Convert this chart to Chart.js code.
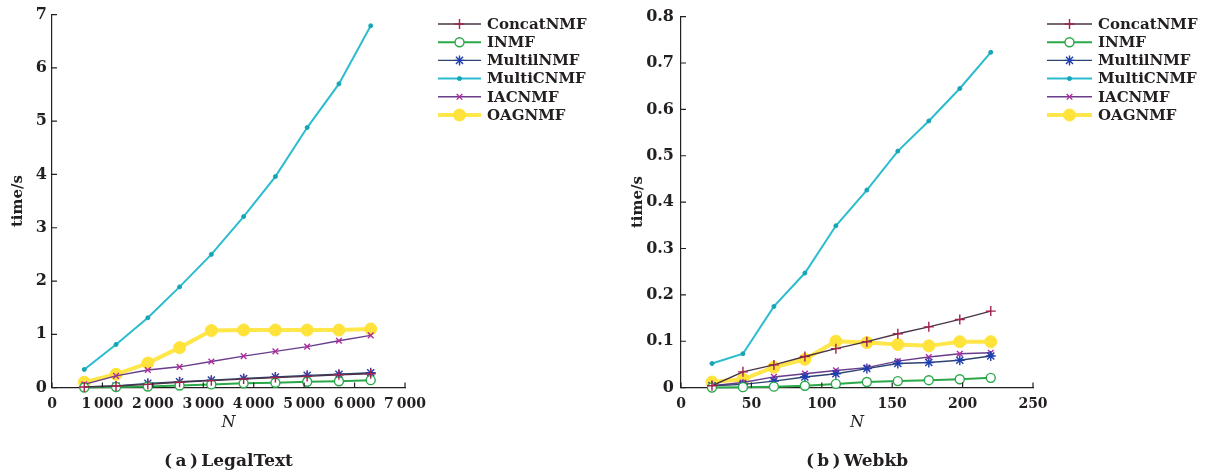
<!DOCTYPE html>
<html>
<head>
<meta charset="utf-8">
<script src="https://cdn.jsdelivr.net/npm/chart.js@4.4.1/dist/chart.umd.min.js"></script>
<style>
  html, body { margin: 0; padding: 0; background: #fff; }
  body { width: 1206px; height: 476px; position: relative; overflow: hidden; }
  .box { position: absolute; top: 0; height: 476px; }
  #boxA { left: 0; width: 620px; }
  #boxB { left: 620px; width: 586px; }
</style>
</head>
<body>
<div class="box" id="boxA"><canvas id="chartA"></canvas></div>
<div class="box" id="boxB"><canvas id="chartB"></canvas></div>
<script>
const seriesNames = ["ConcatNMF", "INMF", "MultilNMF", "MultiCNMF", "IACNMF", "OAGNMF"];

// (a) LegalText
const legalN = [640, 1270, 1900, 2530, 3160, 3800, 4430, 5060, 5690, 6320];
const legalConcat = [0.01, 0.03, 0.06, 0.10, 0.13, 0.16, 0.19, 0.21, 0.24, 0.26];
const legalINMF = [0.00, 0.01, 0.02, 0.04, 0.06, 0.08, 0.09, 0.11, 0.12, 0.14];
const legalMultil = [0.01, 0.03, 0.08, 0.11, 0.14, 0.17, 0.20, 0.23, 0.25, 0.28];
const legalMultiC = [0.34, 0.81, 1.31, 1.89, 2.50, 3.21, 3.96, 4.88, 5.70, 6.79];
const legalIAC = [0.06, 0.22, 0.33, 0.39, 0.49, 0.59, 0.68, 0.77, 0.88, 0.98];
const legalOAG = [0.10, 0.25, 0.46, 0.75, 1.07, 1.08, 1.08, 1.08, 1.08, 1.10];
const legalXTicks = [0, 1000, 2000, 3000, 4000, 5000, 6000, 7000];
const legalYTicks = [0, 1, 2, 3, 4, 5, 6, 7];

// (b) Webkb
const webN = [22, 44, 66, 88, 110, 132, 154, 176, 198, 220];
const webConcat = [0.004, 0.034, 0.049, 0.067, 0.084, 0.099, 0.116, 0.131, 0.147, 0.165];
const webINMF = [0.000, 0.001, 0.002, 0.004, 0.008, 0.012, 0.014, 0.016, 0.018, 0.021];
const webMultil = [0.004, 0.007, 0.014, 0.023, 0.030, 0.041, 0.052, 0.054, 0.059, 0.068];
const webMultiC = [0.052, 0.073, 0.175, 0.247, 0.349, 0.426, 0.510, 0.575, 0.645, 0.723];
const webIAC = [0.004, 0.011, 0.023, 0.030, 0.037, 0.043, 0.057, 0.066, 0.073, 0.075];
const webOAG = [0.012, 0.018, 0.044, 0.061, 0.100, 0.097, 0.093, 0.090, 0.099, 0.099];
const webXTicks = [0, 50, 100, 150, 200, 250];
const webYTicks = [0, 0.1, 0.2, 0.3, 0.4, 0.5, 0.6, 0.7, 0.8];

const ink = '#231f20';
const serif = '"DejaVu Serif", serif';

// line colour, marker colour, marker style, marker radius, line width, filled marker?
const seriesStyles = [
    { line: '#4a3346', point: '#a3204f', style: 'cross', r: 5, w: 1.4, fill: false },
    { line: '#2aa84a', point: '#2aa84a', style: 'circle', r: 4.5, w: 2, fill: false },
    { line: '#2c4470', point: '#1d3fae', style: 'star', r: 5, w: 1.4, fill: false },
    { line: '#2bbccf', point: '#17a5b5', style: 'circle', r: 2, w: 2, fill: true },
    { line: '#6a3c8c', point: '#b02ca0', style: 'crossRot', r: 4, w: 1.4, fill: false },
    { line: '#ffe64a', point: '#ffe23a', style: 'circle', r: 6, w: 4, fill: true }
];

// legend with a short line and marker, plus inward tick marks
const lineLegend = {
    id: 'lineLegend',
    afterDraw(chart, args, opts) {
        const ctx = chart.ctx;
        const area = chart.chartArea;
        const xs = chart.scales.x, ys = chart.scales.y;
        ctx.save();
        ctx.strokeStyle = ink;
        ctx.lineWidth = 1.2;
        ctx.beginPath();
        xs.ticks.forEach(t => {
            const px = xs.getPixelForValue(t.value);
            ctx.moveTo(px, area.bottom);
            ctx.lineTo(px, area.bottom - 5);
        });
        ys.ticks.forEach(t => {
            const py = ys.getPixelForValue(t.value);
            ctx.moveTo(area.left, py);
            ctx.lineTo(area.left + 5, py);
        });
        ctx.stroke();

        chart.data.datasets.forEach((ds, i) => {
            const y = opts.y + i * opts.gap;
            ctx.strokeStyle = ds.borderColor;
            ctx.lineWidth = ds.borderWidth;
            ctx.beginPath();
            ctx.moveTo(opts.x, y);
            ctx.lineTo(opts.x + opts.len, y);
            ctx.stroke();
            ctx.strokeStyle = ds.pointBorderColor;
            ctx.fillStyle = ds.pointBackgroundColor;
            ctx.lineWidth = ds.pointBorderWidth;
            Chart.helpers.drawPoint(ctx, {
                pointStyle: ds.pointStyle, radius: ds.pointRadius, rotation: 0, borderWidth: ds.pointBorderWidth
            }, opts.x + opts.len / 2, y);
            ctx.fillStyle = ink;
            ctx.font = 'bold 15px ' + serif;
            ctx.textBaseline = 'middle';
            ctx.textAlign = 'left';
            ctx.fillText(ds.label, opts.x + opts.len + 6, y + 1);
        });
        ctx.restore();
    }
};

function makeChart(id, xVals, series, cfg) {
    const datasets = series.map((vals, i) => {
        const s = seriesStyles[i];
        return {
            label: seriesNames[i],
            data: vals.map((v, k) => ({ x: xVals[k], y: v })),
            borderColor: s.line,
            borderWidth: s.w,
            pointStyle: s.style,
            pointRadius: s.r,
            pointBorderColor: s.point,
            pointBackgroundColor: s.fill ? s.point : '#ffffff',
            pointBorderWidth: s.style === 'circle' && s.fill ? 1 : 1.4,
            tension: 0,
            clip: false
        };
    });

    return new Chart(document.getElementById(id), {
        type: 'line',
        data: { datasets: datasets },
        options: {
            responsive: true,
            maintainAspectRatio: false,
            animation: false,
            layout: { padding: { top: 14, right: cfg.padRight, left: 0, bottom: 0 } },
            scales: {
                x: {
                    type: 'linear',
                    min: cfg.xTicks[0],
                    max: cfg.xTicks[cfg.xTicks.length - 1],
                    afterBuildTicks: s => { s.ticks = cfg.xTicks.map(v => ({ value: v })); },
                    afterFit: s => { s.height = 49; },
                    grid: { display: false, drawTicks: false },
                    border: { display: true, color: ink, width: 1.2 },
                    ticks: {
                        color: ink,
                        padding: 8,
                        autoSkip: false,
                        maxRotation: 0,
                        font: { family: serif, weight: 'bold', size: 14 },
                        callback: cfg.xFormat
                    },
                    title: {
                        display: true,
                        text: 'N',
                        color: ink,
                        font: { family: serif, style: 'italic', size: 16 },
                        padding: { top: 0, bottom: 4 }
                    }
                },
                y: {
                    min: cfg.yTicks[0],
                    max: cfg.yTicks[cfg.yTicks.length - 1],
                    afterBuildTicks: s => { s.ticks = cfg.yTicks.map(v => ({ value: v })); },
                    afterFit: s => { s.width = cfg.yWidth; },
                    grid: { display: false, drawTicks: false },
                    border: { display: true, color: ink, width: 1.2 },
                    ticks: {
                        color: ink,
                        padding: cfg.yPad,
                        font: { family: serif, weight: 'bold', size: 16 },
                        callback: cfg.yFormat
                    },
                    title: {
                        display: true,
                        text: 'time/s',
                        color: ink,
                        font: { family: serif, weight: 'bold', size: 15 },
                        padding: { top: 9, bottom: 4 }
                    }
                }
            },
            plugins: {
                legend: { display: false },
                tooltip: { enabled: false },
                title: {
                    display: true,
                    position: 'bottom',
                    fullSize: false,
                    text: cfg.caption,
                    color: ink,
                    font: { family: serif, weight: 'bold', size: 17 },
                    padding: { top: 15, bottom: 4 }
                },
                lineLegend: cfg.legend
            }
        },
        plugins: [lineLegend]
    });
}

makeChart('chartA', legalN,
    [legalConcat, legalINMF, legalMultil, legalMultiC, legalIAC, legalOAG], {
        xTicks: legalXTicks,
        yTicks: legalYTicks,
        xFormat: v => v === 0 ? '0' : (v / 1000) + '\u2009000',
        yFormat: v => String(v),
        yWidth: 52,
        yPad: 5,
        padRight: 215,
        caption: '(\u2009a\u2009)\u2009LegalText',
        legend: { x: 438, y: 24, gap: 18.2, len: 43 }
    });

makeChart('chartB', webN,
    [webConcat, webINMF, webMultil, webMultiC, webIAC, webOAG], {
        xTicks: webXTicks,
        yTicks: webYTicks,
        xFormat: v => String(v),
        yFormat: v => v === 0 ? '0' : v.toFixed(1),
        yWidth: 61,
        yPad: 7,
        padRight: 173,
        caption: '(\u2009b\u2009)\u2009Webkb',
        legend: { x: 427, y: 24, gap: 18.2, len: 45 }
    });
</script>
</body>
</html>
